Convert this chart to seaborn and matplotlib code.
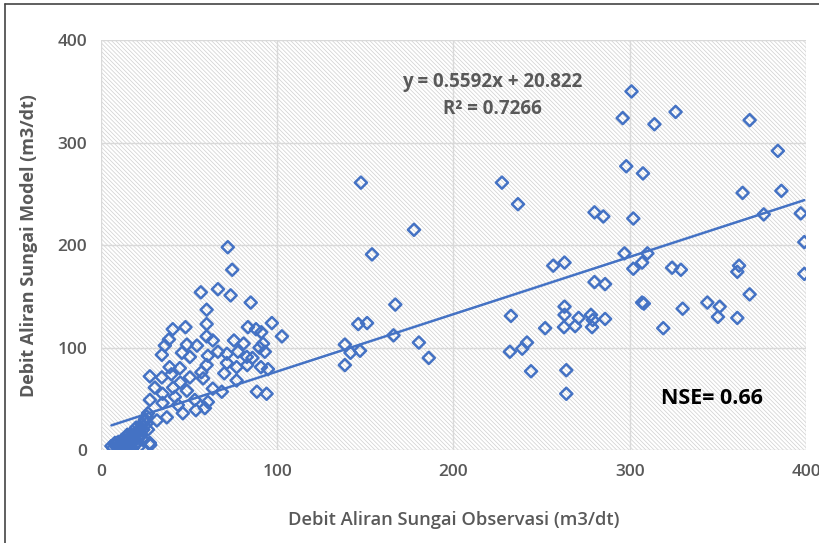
import numpy as np
import pandas as pd
import matplotlib
matplotlib.use("Agg")
import matplotlib.pyplot as plt
from matplotlib.patches import Rectangle
from matplotlib.lines import Line2D
import seaborn as sns

obs = [
    # high-flow group
    301, 296, 314, 326, 298, 307.5, 368, 384, 364, 386, 280, 285, 302, 376, 397, 399, 399,
    297, 310, 302, 307, 256.6, 263, 280, 286, 324, 329, 361, 362, 307, 308, 368, 330, 344,
    351, 350, 361, 319, 263, 263, 252, 262.7, 269, 271, 278, 278.6, 279, 286, 264, 264,
    227.5, 236.6, 232.6, 232, 239, 241.7, 244,
    # mid group
    147.5, 177.6, 153.8, 167, 146, 151, 166, 138.4, 141.6, 147, 138.4, 180.4, 186,
    # low-flow cluster
    72, 74.5, 56.7, 66.4, 73.6, 85, 60, 60, 40.8, 48, 97, 102.7, 83.4, 88, 91, 38.6, 36.3,
    34.6, 60, 63.5, 75.5, 81, 90, 92, 93, 48.8, 54.5, 46, 50.5, 39, 44.8, 60.7, 66.4, 71.5,
    77.7, 82.8, 86, 60, 71.5, 77, 83, 90.8, 94.8, 27.8, 34.6, 40, 45, 50.5, 57, 58, 63.5,
    70, 77, 88.5, 94, 30.6, 35, 41, 42, 48.8, 53.3, 60.7, 68.6, 27.8, 35, 43.7, 26.7, 37.4,
    46.5, 53.9, 59, 26, 31.8, 22, 26.7, 27.8, 17.6, 12.5, 8, 15, 22,
    # near origin
    6, 7, 8, 9, 10, 10, 11, 12, 12, 13, 14, 15, 15, 16, 17, 18, 18, 19, 20, 21, 22, 23,
    24, 25, 26, 9, 11, 13, 14, 16, 18, 20, 22, 24, 28, 17, 19, 21, 23, 25,
]
model = [
    350, 324, 318, 330, 277, 270, 322, 292, 251, 253, 232, 228, 226, 230, 231, 203, 172,
    192, 192, 177, 183, 180, 183, 164, 162, 178, 176, 174, 180, 144, 143, 152, 138, 144,
    140, 130, 129, 119, 140, 132, 119, 120, 121, 129, 132, 120, 127, 128, 78, 55,
    261, 240, 131, 96, 99, 105, 77,
    261, 215, 191, 142, 123, 124, 112, 103, 95, 97, 83, 105, 90,
    198, 176, 154, 157, 151, 144, 137, 123, 118, 120, 124, 111, 120, 118, 115, 108, 102,
    93, 111, 107, 107, 104, 100, 104, 96, 103, 102, 95, 91, 81, 80, 92, 96, 94,
    96, 91, 90, 83, 85, 81, 83, 81, 79, 72, 71, 74, 66, 71, 76, 70, 60,
    75, 68, 57, 55, 61, 55, 61, 52, 58, 49, 47, 57, 49, 46, 44, 36, 32,
    36, 39, 41, 26, 29, 20, 20, 7, 12, 8, 7, 7, 13,
    4, 2, 6, 3, 8, 1, 5, 10, 2, 6, 12, 4, 15, 9, 14, 18, 8, 16, 22, 12, 18, 25,
    20, 28, 33, 7, 3, 9, 1, 3, 2, 6, 4, 10, 5, 11, 5, 8, 15, 30,
]

trend_slope = 0.5592
trend_intercept = 20.822
nse = 0.66

df = pd.DataFrame({"obs": obs, "model": model})

blue = "#4472C4"
grey_txt = "#595959"
grid_c = "#d9d9d9"

sns.set_style("white")
plt.rcParams["font.family"] = ["Open Sans", "DejaVu Sans"]
plt.rcParams["hatch.linewidth"] = 0.5
plt.rcParams["hatch.color"] = "#cfcfcf"

fig = plt.figure(figsize=(8.2, 5.43), dpi=100)
ax = fig.add_axes([0.123, 0.171, 0.86, 0.755])

# hatched plot area
ax.add_patch(Rectangle((0, 0), 1, 1, transform=ax.transAxes, facecolor="white",
                       edgecolor="#cfcfcf", hatch="\\" * 8, linewidth=0, zorder=0))

sns.scatterplot(data=df, x="obs", y="model", marker="D", s=38, facecolor="none",
                edgecolor=blue, linewidth=1.8, ax=ax, zorder=3)

xs = np.array([min(obs), max(obs)])
ax.plot(xs, trend_slope * xs + trend_intercept, color=blue, linewidth=1.8, zorder=4)

ax.set_xlim(0, 400)
ax.set_ylim(0, 400)
ax.set_xticks([0, 100, 200, 300, 400])
ax.set_yticks([0, 100, 200, 300, 400])
ax.grid(True, color=grid_c, linewidth=1)
ax.set_axisbelow(True)
for s in ax.spines.values():
    s.set_visible(False)
ax.tick_params(length=0, labelsize=12.5, labelcolor=grey_txt, pad=10)
for lab in ax.get_xticklabels() + ax.get_yticklabels():
    lab.set_fontweight("semibold")

ax.set_xlabel("Debit Aliran Sungai Observasi (m3/dt)", fontsize=13.2, color=grey_txt,
              fontweight="semibold", labelpad=22)
ax.set_ylabel("Debit Aliran Sungai Model (m3/dt)", fontsize=13, color=grey_txt,
              fontweight="bold", labelpad=14)

ax.text(222, 346, f"y = {trend_slope}x + {trend_intercept}\nR² = 0.7266", ha="center",
        va="center", fontsize=13.5, color=grey_txt, fontweight="bold", linespacing=1.45)
ax.text(318, 50, f"NSE= {nse}", ha="left", va="center", fontsize=15.5,
        color="black", fontweight="bold")

# outer frame (top and left edges of the screenshot)
fig.add_artist(Line2D([0.006, 1.0], [0.993, 0.993], transform=fig.transFigure,
                      color="#444444", linewidth=1.2))
fig.add_artist(Line2D([0.006, 0.006], [0.0, 0.993], transform=fig.transFigure,
                      color="#444444", linewidth=1.2))

fig.savefig("out.png", dpi=100)
